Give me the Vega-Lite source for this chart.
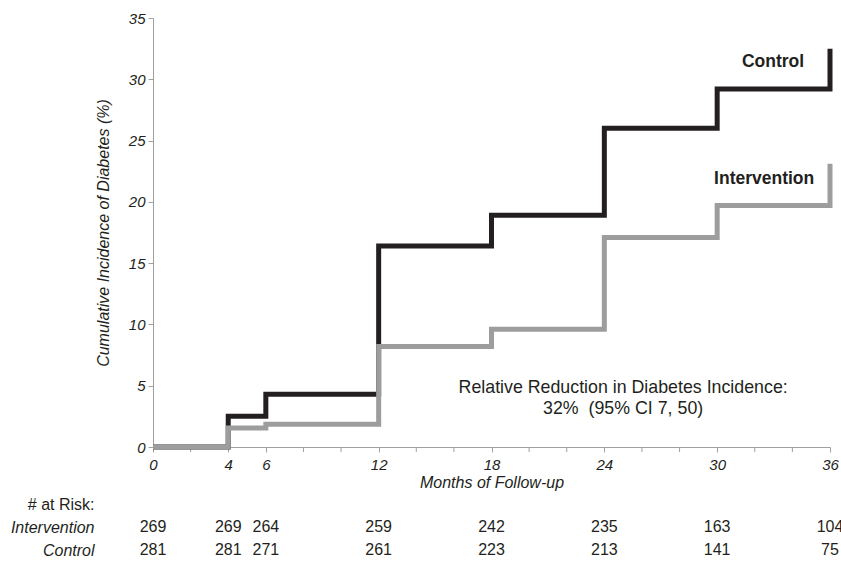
{
  "$schema": "https://vega.github.io/schema/vega-lite/v6.json",
  "width": 677,
  "height": 429,
  "autosize": {"type": "none"},
  "padding": {"left": 153, "top": 18, "right": 11, "bottom": 114},
  "background": "white",
  "config": {
    "view": {"stroke": null},
    "font": "Liberation Sans",
    "axis": {"grid": false, "labelFlush": false, "labelBound": false},
    "axisX": {"labelOverlap": false, "labelFontStyle": "italic", "labelFontSize": 15, "labelColor": "#231f20", "labelPadding": 5, "domainColor": "#a0a0a0", "tickColor": "#a0a0a0", "tickSize": 5, "titleFontStyle": "italic", "titleFontWeight": "normal", "titleFontSize": 16, "titleColor": "#231f20", "titlePadding": 2}
  },
  "datasets": {
    "curves": [
      {"group": "Control", "month": 0, "pct": 0},
      {"group": "Control", "month": 4, "pct": 2.5},
      {"group": "Control", "month": 6, "pct": 4.3},
      {"group": "Control", "month": 12, "pct": 16.4},
      {"group": "Control", "month": 18, "pct": 18.9},
      {"group": "Control", "month": 24, "pct": 26.0},
      {"group": "Control", "month": 30, "pct": 29.2},
      {"group": "Control", "month": 36, "pct": 32.5},
      {"group": "Intervention", "month": 0, "pct": 0},
      {"group": "Intervention", "month": 4, "pct": 1.55},
      {"group": "Intervention", "month": 6, "pct": 1.85},
      {"group": "Intervention", "month": 12, "pct": 8.2},
      {"group": "Intervention", "month": 18, "pct": 9.6},
      {"group": "Intervention", "month": 24, "pct": 17.1},
      {"group": "Intervention", "month": 30, "pct": 19.7},
      {"group": "Intervention", "month": 36, "pct": 23.1}
    ],
    "minorTicks": [
      {"month": 2}, {"month": 8}, {"month": 10}, {"month": 14}, {"month": 16},
      {"month": 20}, {"month": 22}, {"month": 26}, {"month": 28}, {"month": 32}, {"month": 34}
    ],
    "labels": [
      {"text": "Control", "month": 32.97, "pct": 31.4},
      {"text": "Intervention", "month": 32.5, "pct": 21.9}
    ],
    "notes": [
      {"text": "Relative Reduction in Diabetes Incidence:", "month": 25.0, "pct": 4.85},
      {"text": "32%\u00a0\u00a0(95% CI 7, 50)", "month": 25.0, "pct": 3.1}
    ],
    "risk": [
      {"group": "Intervention", "month": 0, "n": 269},
      {"group": "Intervention", "month": 4, "n": 269},
      {"group": "Intervention", "month": 6, "n": 264},
      {"group": "Intervention", "month": 12, "n": 259},
      {"group": "Intervention", "month": 18, "n": 242},
      {"group": "Intervention", "month": 24, "n": 235},
      {"group": "Intervention", "month": 30, "n": 163},
      {"group": "Intervention", "month": 36, "n": 104},
      {"group": "Control", "month": 0, "n": 281},
      {"group": "Control", "month": 4, "n": 281},
      {"group": "Control", "month": 6, "n": 271},
      {"group": "Control", "month": 12, "n": 261},
      {"group": "Control", "month": 18, "n": 223},
      {"group": "Control", "month": 24, "n": 213},
      {"group": "Control", "month": 30, "n": 141},
      {"group": "Control", "month": 36, "n": 75}
    ]
  },
  "layer": [
    {
      "layer": [
        {
          "data": {"name": "minorTicks"},
          "mark": {"type": "tick", "orient": "vertical", "size": 5, "thickness": 1, "yOffset": 2.5, "color": "#a0a0a0", "opacity": 1},
          "encoding": {
            "x": {
              "field": "month", "type": "quantitative",
              "scale": {"domain": [0, 36], "nice": false},
              "axis": {
                "values": [0, 4, 6, 12, 18, 24, 30, 36],
                "labelOverlap": false,
                "title": "Months of Follow-up"
              }
            },
            "y": {
              "datum": 0, "type": "quantitative",
              "scale": {"domain": [0, 35], "nice": false},
              "axis": {
                "values": [0, 5, 10, 15, 20, 25, 30, 35],
                "title": "Cumulative Incidence of Diabetes (%)",
                "titleFontStyle": "italic", "titleFontWeight": "normal", "titleFontSize": 16, "titleColor": "#231f20",
                "titlePadding": 17,
                "labelFontStyle": "italic", "labelFontSize": 15, "labelColor": "#231f20",
                "labelPadding": 3,
                "domainColor": "#a0a0a0", "tickColor": "#a0a0a0", "tickSize": 5
              }
            }
          }
        },
        {
          "data": {"name": "curves"},
          "transform": [{"filter": "datum.group == 'Control'"}],
          "mark": {"type": "line", "interpolate": "step-after", "strokeWidth": 5, "color": "#231f20", "strokeJoin": "miter", "clip": false},
          "encoding": {
            "x": {"field": "month", "type": "quantitative"},
            "y": {"field": "pct", "type": "quantitative"}
          }
        },
        {
          "data": {"name": "curves"},
          "transform": [{"filter": "datum.group == 'Intervention'"}],
          "mark": {"type": "line", "interpolate": "step-after", "strokeWidth": 5, "color": "#9d9d9d", "strokeJoin": "miter", "clip": false},
          "encoding": {
            "x": {"field": "month", "type": "quantitative"},
            "y": {"field": "pct", "type": "quantitative"}
          }
        },
        {
          "data": {"name": "labels"},
          "mark": {"type": "text", "fontWeight": "bold", "fontSize": 17.5, "color": "#231f20", "align": "center", "baseline": "middle"},
          "encoding": {
            "x": {"field": "month", "type": "quantitative"},
            "y": {"field": "pct", "type": "quantitative"},
            "text": {"field": "text"}
          }
        },
        {
          "data": {"name": "notes"},
          "mark": {"type": "text", "fontSize": 17.8, "color": "#231f20", "align": "center", "baseline": "middle"},
          "encoding": {
            "x": {"field": "month", "type": "quantitative"},
            "y": {"field": "pct", "type": "quantitative"},
            "text": {"field": "text"}
          }
        }
      ]
    },
    {
      "data": {"name": "risk"},
      "mark": {"type": "text", "fontSize": 16, "color": "#231f20", "align": "center", "baseline": "middle"},
      "encoding": {
        "x": {"field": "month", "type": "quantitative"},
        "y": {
          "field": "group", "type": "nominal",
          "scale": {"type": "point", "domain": ["# at Risk:", "Intervention", "Control"], "range": [486, 532], "padding": 0},
          "axis": {
            "orient": "left", "title": null, "domain": false, "ticks": false,
            "labelFontSize": 16, "labelColor": "#231f20", "labelPadding": 59,
            "labelFontStyle": {"condition": {"test": "datum.value == '# at Risk:'", "value": "normal"}, "value": "italic"}
          }
        },
        "text": {"field": "n", "type": "quantitative"}
      }
    }
  ],
  "resolve": {"scale": {"y": "independent"}}
}
